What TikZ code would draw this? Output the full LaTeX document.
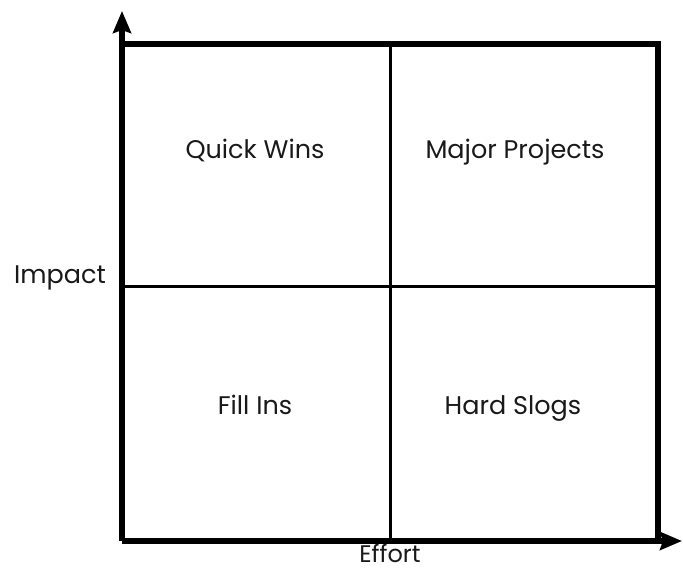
\documentclass[tikz,border=0pt]{standalone}
\usepackage{fontspec}
\setmainfont{Poppins}
\usetikzlibrary{arrows.meta}
\begin{document}
\begin{tikzpicture}[x=1pt,y=1pt,
  axis/.style={line width=5.5pt,-{Stealth[length=22pt,width=18pt,inset=3pt]}},
  frame/.style={line width=5.5pt,line cap=rect},
  divider/.style={line width=3pt},
  label/.style={font=\fontsize{25.5}{30}\selectfont,text=black!90,anchor=base,inner sep=0pt}]
\useasboundingbox (0,0) rectangle (683,571);
% corner points of the matrix
\coordinate (o)  at (122,30);
\coordinate (tl) at (122,527);
\coordinate (tr) at (658,527);
\coordinate (br) at (658,30);
\coordinate (ytip) at (122,560);
\coordinate (xtip) at (682,30);
\coordinate (mt) at (390,527);
\coordinate (mb) at (390,30);
\coordinate (ml) at (122,284);
\coordinate (mr) at (658,284);
% dividers
\draw[divider] (mt) -- (mb);
\draw[divider] (ml) -- (mr);
% frame and axes
\draw[frame] (tl) -- (tr) -- (br);
\draw[axis] (o) -- (ytip);
\draw[axis] (o) -- (xtip);
% quadrant names
\node[label] (qw) at (255,412) {Quick Wins};
\node[label] (mp) at (515,412) {Major Projects};
\node[label] (fi) at (255,157) {Fill Ins};
\node[label] (hs) at (513,157) {Hard Slogs};
% axis names
\node[label] (imp) at (60,287) {Impact};
\node[label,font=\fontsize{24}{28}\selectfont] (eff) at (390,9) {Effort};
\end{tikzpicture}
\end{document}
